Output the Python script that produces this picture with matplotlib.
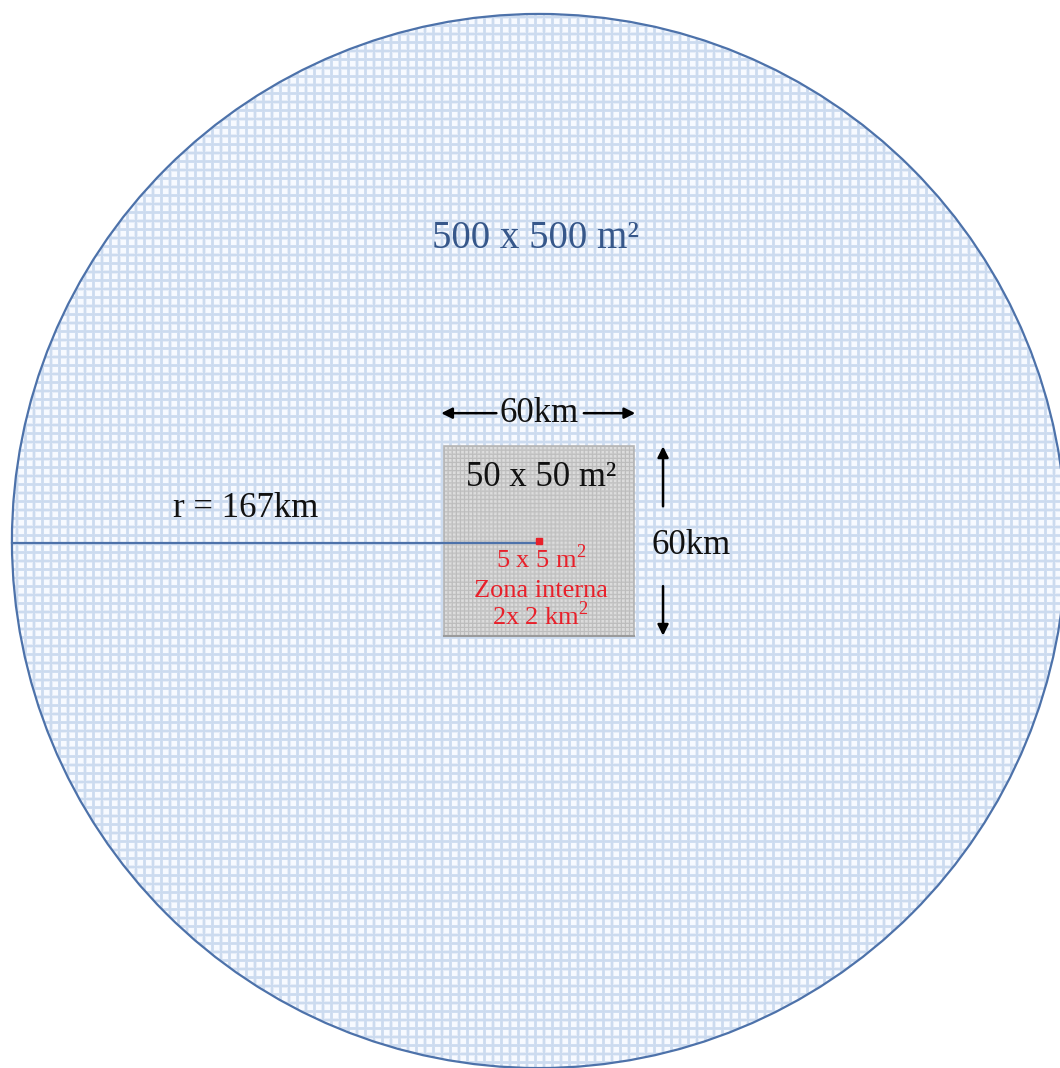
import numpy as np
import matplotlib.pyplot as plt
from matplotlib.patches import Circle, Rectangle

plt.rcParams['font.family'] = ['Liberation Serif', 'DejaVu Serif']
plt.rcParams['mathtext.fontset'] = 'custom'
plt.rcParams['mathtext.rm'] = 'Liberation Serif'

# diagram values (km)
R_KM = 167          # outer radius
SIDE_KM = 60        # side of the inner square
outer_label = "500 x 500 m²"
square_label = "50 x 50 m²"
radius_label = "r = 167km"
side_label = "60km"
inner_labels = [r"5 x 5 m$^\mathrm{2}$", "Zona interna", r"2x 2 km$^\mathrm{2}$"]

W, H = 1060, 1068
PX = 3.156            # pixels per km
CX, CY = 539, 541     # circle centre in pixels

x0, x1 = -CX / PX, (W - CX) / PX
y0, y1 = -(H - CY) / PX, CY / PX


def grid_tex(w, h, period, lw, bg, fg):
    xx = np.arange(w) + 0.5
    yy = np.arange(h) + 0.5
    def mask(v):
        d = v % period
        d = np.minimum(d, period - d)
        return np.clip(lw / 2 + 0.5 - d, 0, 1)
    m = np.maximum(mask(xx)[None, :], mask(yy)[:, None])[..., None]
    return np.array(bg) * (1 - m) + np.array(fg) * m


fig = plt.figure(figsize=(W / 100, H / 100), dpi=100)
ax = fig.add_axes([0, 0, 1, 1])
ax.set_xlim(x0, x1)
ax.set_ylim(y0, y1)
ax.axis('off')

# outer circle with blue grid
circ = Circle((0, 0), R_KM, facecolor='none', edgecolor='#4d72aa', lw=1.6, zorder=3)
ax.add_patch(circ)
tex = grid_tex(W, H, 8.5, 2.8, (0.97, 0.982, 1.0), (0.80, 0.86, 0.94))
im = ax.imshow(tex, extent=(x0, x1, y0, y1), interpolation='antialiased', zorder=1)
im.set_clip_path(circ)

# inner square with grey grid
half = SIDE_KM / 2
sq = Rectangle((-half, -half), SIDE_KM, SIDE_KM, facecolor='none',
               edgecolor='#b5b5b5', lw=1.2, zorder=4)
ax.add_patch(sq)
n = int(round(SIDE_KM * PX))
gtex = grid_tex(n, n, 4.1, 1.4, (0.87, 0.87, 0.87), (0.74, 0.74, 0.74))
gim = ax.imshow(gtex, extent=(-half, half, -half, half), interpolation='antialiased', zorder=2)
gim.set_clip_path(sq)
ax.plot([-half, half], [-half, -half], color='#9a9a9a', lw=1.5, zorder=4)

# radius line and centre point
ax.plot([-R_KM, 0], [-0.6, -0.6], color='#4d72aa', lw=1.6, zorder=5)
ax.plot([0], [0], marker='s', ms=4, color='#e8202a', zorder=6)

# horizontal dimension
ytop = half + 10.5
ax.text(0, ytop, side_label, fontsize=25, ha='center', va='center', color='#111111')
arr = dict(arrowstyle='-|>', color='black', lw=1.8, mutation_scale=16, shrinkA=0, shrinkB=0)
ax.annotate('', xy=(-half - 1, ytop), xytext=(-13.5, ytop), arrowprops=arr)
ax.annotate('', xy=(half + 0.5, ytop), xytext=(14.2, ytop), arrowprops=arr)

# vertical dimension
xv = half + 9.3
ax.annotate('', xy=(xv, half), xytext=(xv, 11), arrowprops=arr)
ax.annotate('', xy=(xv, -half), xytext=(xv, -14.3), arrowprops=arr)
ax.text(xv - 3.5, -1.4, side_label, fontsize=25, ha='left', va='center', color='#111111')

# labels
ax.text(-1, 96, outer_label, fontsize=28, ha='center', va='center', color='#36578a')
ax.text(0.6, 20, square_label, fontsize=25, ha='center', va='center', color='#111111')
ax.text(-93, 10.3, radius_label, fontsize=25, ha='center', va='center', color='#111111')
for lab, yy in zip(inner_labels, [-5.5, -15.8, -23.6]):
    ax.text(0.6, yy, lab, fontsize=19, ha='center', va='center', color='#e8202a')

fig.savefig('out.png', dpi=100)
